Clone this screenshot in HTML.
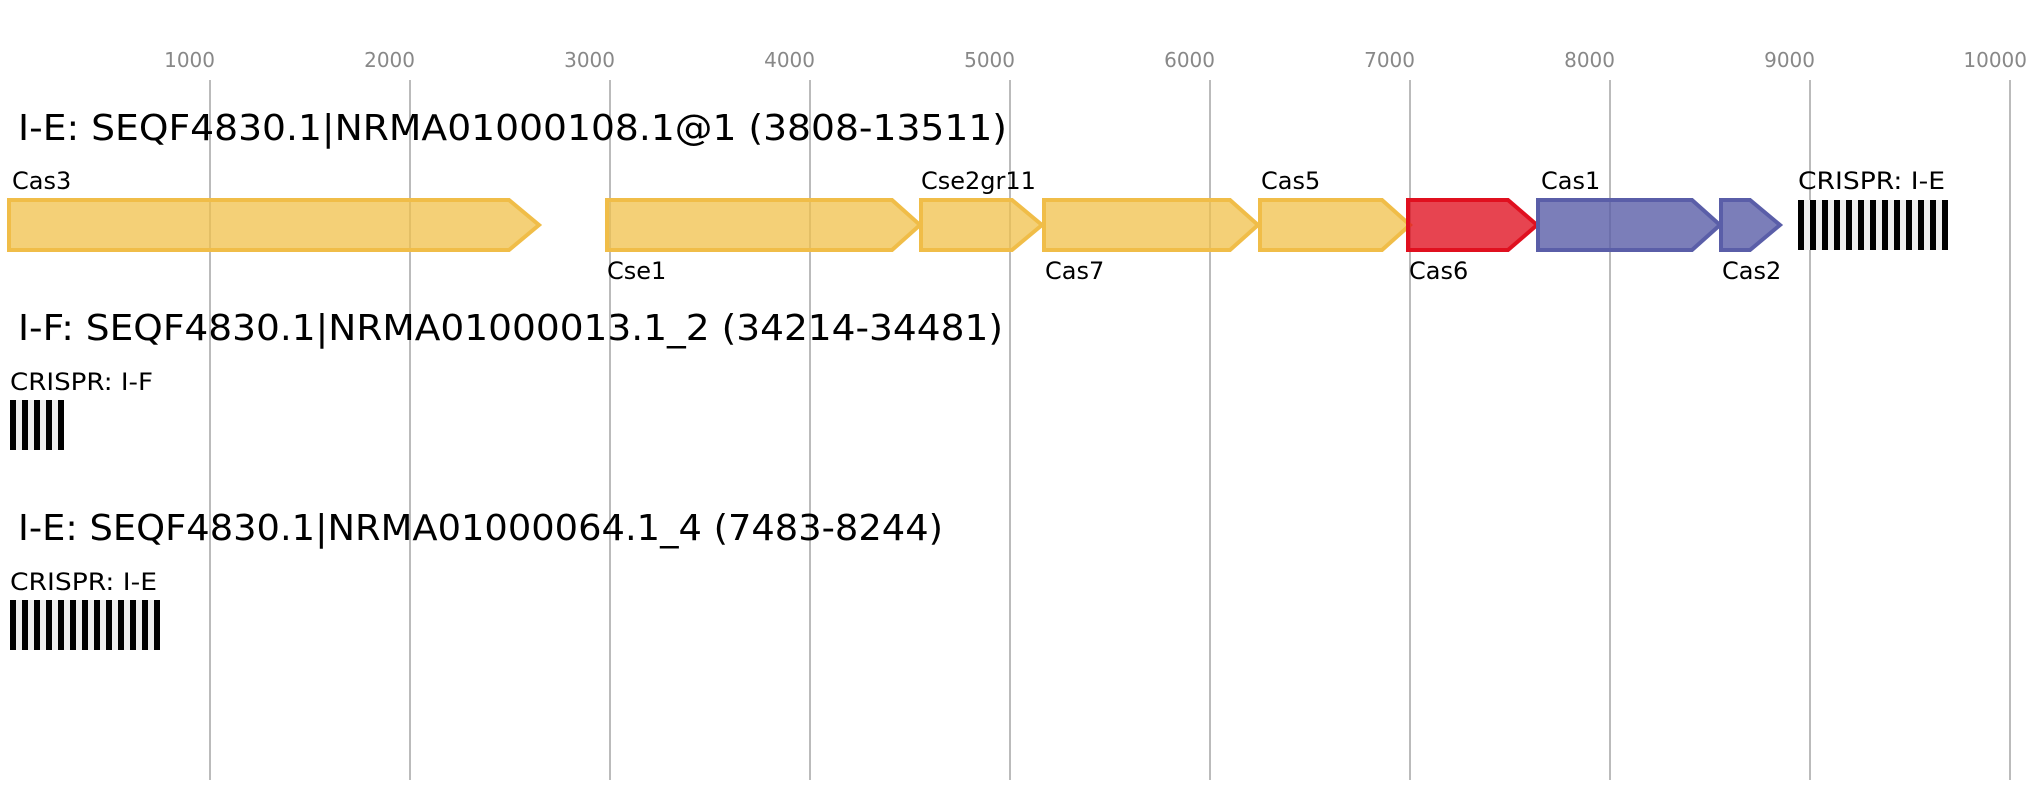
<!DOCTYPE html>
<html><head><meta charset="utf-8"><style>html,body{margin:0;padding:0;background:#fff}svg{display:block}</style></head>
<body>
<svg xmlns="http://www.w3.org/2000/svg" width="2041" height="800" viewBox="0 0 2041 800" font-family="DejaVu Sans, Liberation Sans, sans-serif">
<rect width="2041" height="800" fill="#fff"/>
<g fill="#888" font-size="20" text-anchor="end">
<text x="215" y="67">1000</text><text x="415" y="67">2000</text><text x="615" y="67">3000</text><text x="815" y="67">4000</text><text x="1015" y="67">5000</text><text x="1215" y="67">6000</text><text x="1415" y="67">7000</text><text x="1615" y="67">8000</text><text x="1815" y="67">9000</text><text x="2027" y="67">10000</text>
</g>
<g stroke="#bbb" stroke-width="2">
<line x1="210" y1="80" x2="210" y2="780"/><line x1="410" y1="80" x2="410" y2="780"/><line x1="610" y1="80" x2="610" y2="780"/><line x1="810" y1="80" x2="810" y2="780"/><line x1="1010" y1="80" x2="1010" y2="780"/><line x1="1210" y1="80" x2="1210" y2="780"/><line x1="1410" y1="80" x2="1410" y2="780"/><line x1="1610" y1="80" x2="1610" y2="780"/><line x1="1810" y1="80" x2="1810" y2="780"/><line x1="2010" y1="80" x2="2010" y2="780"/>
</g>
<g fill="#000">
<text x="18" y="140" font-size="36" textLength="989" lengthAdjust="spacingAndGlyphs">I-E: SEQF4830.1|NRMA01000108.1@1 (3808-13511)</text>
<text x="18" y="340" font-size="36" textLength="985" lengthAdjust="spacingAndGlyphs">I-F: SEQF4830.1|NRMA01000013.1_2 (34214-34481)</text>
<text x="18" y="540" font-size="36" textLength="925" lengthAdjust="spacingAndGlyphs">I-E: SEQF4830.1|NRMA01000064.1_4 (7483-8244)</text>
</g>
<g stroke-width="4" stroke-linejoin="miter">
<g fill="#f0c04a" fill-opacity="0.75" stroke="#f0bd48">
<polygon points="9,200 509,200 539,225 509,250 9,250"/>
<polygon points="607,200 892,200 920,225 892,250 607,250"/>
<polygon points="921,200 1012,200 1042,225 1012,250 921,250"/>
<polygon points="1044,200 1230,200 1258,225 1230,250 1044,250"/>
<polygon points="1260,200 1382,200 1410,225 1382,250 1260,250"/>
</g>
<polygon points="1408,200 1508,200 1537,225 1508,250 1408,250" fill="#e0101f" fill-opacity="0.78" stroke="#e0101f"/>
<g fill="#5a5ea8" fill-opacity="0.8" stroke="#5a5ea8">
<polygon points="1538,200 1692,200 1720,225 1692,250 1538,250"/>
<polygon points="1721,200 1750,200 1780,225 1750,250 1721,250"/>
</g>
</g>
<g fill="#000" font-size="24">
<text x="12" y="189">Cas3</text>
<text x="921" y="189">Cse2gr11</text>
<text x="1261" y="189">Cas5</text>
<text x="1541" y="189">Cas1</text>
<text x="1798" y="189" textLength="147" lengthAdjust="spacingAndGlyphs">CRISPR: I-E</text>
<text x="607" y="279">Cse1</text>
<text x="1045" y="279">Cas7</text>
<text x="1409" y="279">Cas6</text>
<text x="1722" y="279">Cas2</text>
<text x="10" y="390" textLength="143" lengthAdjust="spacingAndGlyphs">CRISPR: I-F</text>
<text x="10" y="590" textLength="147" lengthAdjust="spacingAndGlyphs">CRISPR: I-E</text>
</g>
<rect x="1798" y="200" width="150" height="50" fill="#eee"/>
<rect x="10" y="400" width="54" height="50" fill="#eee"/>
<rect x="10" y="600" width="150" height="50" fill="#eee"/>
<g fill="#000">
<rect x="1798" y="200" width="6" height="50"/><rect x="1810" y="200" width="6" height="50"/><rect x="1822" y="200" width="6" height="50"/><rect x="1834" y="200" width="6" height="50"/><rect x="1846" y="200" width="6" height="50"/><rect x="1858" y="200" width="6" height="50"/><rect x="1870" y="200" width="6" height="50"/><rect x="1882" y="200" width="6" height="50"/><rect x="1894" y="200" width="6" height="50"/><rect x="1906" y="200" width="6" height="50"/><rect x="1918" y="200" width="6" height="50"/><rect x="1930" y="200" width="6" height="50"/><rect x="1942" y="200" width="6" height="50"/>
<rect x="10" y="400" width="6" height="50"/><rect x="22" y="400" width="6" height="50"/><rect x="34" y="400" width="6" height="50"/><rect x="46" y="400" width="6" height="50"/><rect x="58" y="400" width="6" height="50"/>
<rect x="10" y="600" width="6" height="50"/><rect x="22" y="600" width="6" height="50"/><rect x="34" y="600" width="6" height="50"/><rect x="46" y="600" width="6" height="50"/><rect x="58" y="600" width="6" height="50"/><rect x="70" y="600" width="6" height="50"/><rect x="82" y="600" width="6" height="50"/><rect x="94" y="600" width="6" height="50"/><rect x="106" y="600" width="6" height="50"/><rect x="118" y="600" width="6" height="50"/><rect x="130" y="600" width="6" height="50"/><rect x="142" y="600" width="6" height="50"/><rect x="154" y="600" width="6" height="50"/>
</g>
</svg>
</body></html>
